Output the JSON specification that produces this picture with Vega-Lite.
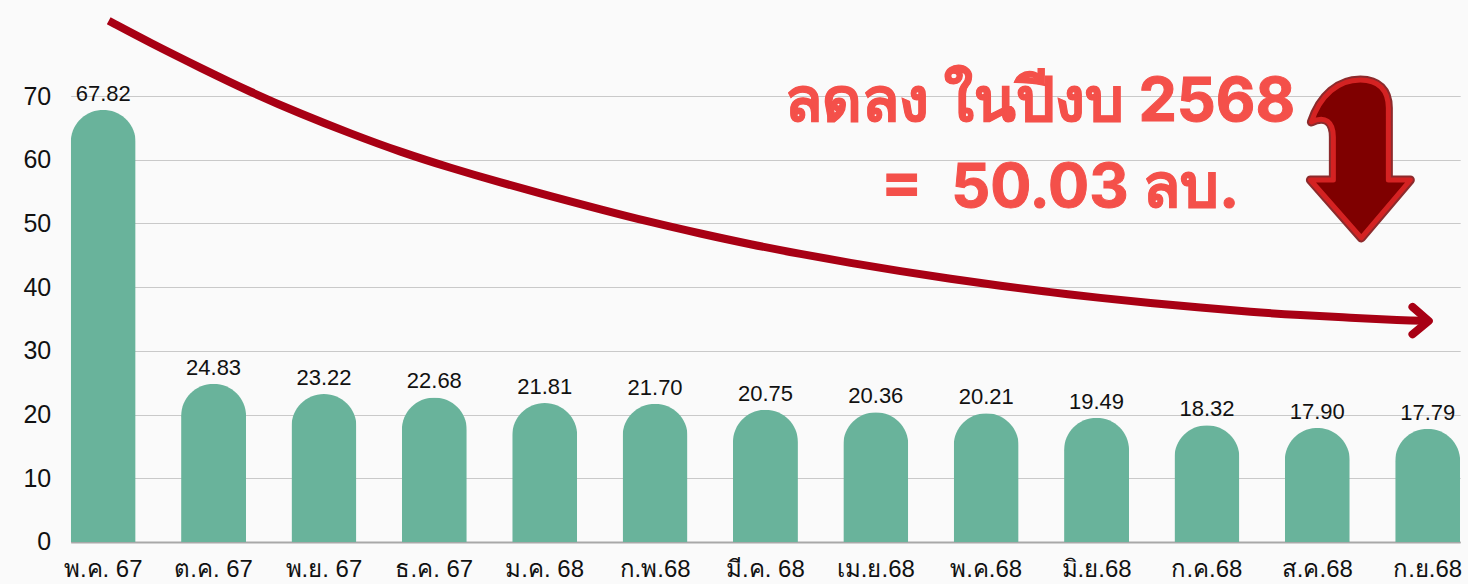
{
"$schema":"https://vega.github.io/schema/vega-lite/v6.json",
"width":1389.5,"height":446,
"autosize":{"type":"none"},
"padding":{"left":70.7,"top":96,"right":8,"bottom":42},
"background":"#FAFAFA",
"config":{"view":{"stroke":null},"font":"Liberation Sans"},
"datasets":{
"bars":[
{"m":"พ.ค. 67","v":67.82},{"m":"ต.ค. 67","v":24.83},{"m":"พ.ย. 67","v":23.22},{"m":"ธ.ค. 67","v":22.68},{"m":"ม.ค. 68","v":21.81},{"m":"ก.พ.68","v":21.70},{"m":"มี.ค. 68","v":20.75},{"m":"เม.ย.68","v":20.36},{"m":"พ.ค.68","v":20.21},{"m":"มิ.ย.68","v":19.49},{"m":"ก.ค.68","v":18.32},{"m":"ส.ค.68","v":17.90},{"m":"ก.ย.68","v":17.79}],
"curve":[
{"p":0.05,"y":81.8},{"p":0.43,"y":78.3},{"p":0.883,"y":74.4},{"p":1.336,"y":70.6},{"p":1.789,"y":67.2},{"p":2.242,"y":64.1},{"p":2.695,"y":61.2},{"p":3.148,"y":58.7},{"p":3.601,"y":56.4},{"p":4.053,"y":54.3},{"p":4.506,"y":52.2},{"p":4.959,"y":50.2},{"p":5.412,"y":48.4},{"p":5.865,"y":46.7},{"p":6.318,"y":45.2},{"p":6.771,"y":43.8},{"p":7.224,"y":42.5},{"p":7.677,"y":41.3},{"p":8.13,"y":40.2},{"p":8.582,"y":39.2},{"p":9.035,"y":38.3},{"p":9.488,"y":37.5},{"p":9.941,"y":36.8},{"p":10.394,"y":36.1},{"p":10.847,"y":35.6},{"p":11.3,"y":35.2},{"p":11.753,"y":34.8},{"p":12.01,"y":34.7}],
"head":[{"o":1,"p":11.862,"y":36.9},{"o":2,"p":12.01,"y":34.7},{"o":3,"p":11.862,"y":32.6}],
"notes":[{"p":8.49,"y":68.9,"t":"ลดลง ในปีงบ 2568"},{"p":8.67,"y":55.4,"t":"=\u00a0\u00a050.03 ลบ."}],
"down":[{"p":11.39,"y":59.96}]
},
"layer":[
{"layer":[
{"data":{"name":"bars"},
"mark":{"type":"bar","color":"#69B39B","width":65,"cornerRadiusTopLeft":32.5,"cornerRadiusTopRight":32.5},
"encoding":{
"x":{"field":"m","type":"nominal","sort":null,"title":null,"scale":{"paddingInner":0.411,"paddingOuter":0},
"axis":{"labelAngle":0,"labelFontSize":24,"labelColor":"#111111","labelPadding":16,"ticks":false,"domainColor":"#A8A8A8","domainWidth":2,"labelOverlap":false,"labelBound":false,"labelFlush":false}},
"y":{"field":"v","type":"quantitative","title":null,"scale":{"domain":[0,70],"nice":false},
"axis":{"values":[0,10,20,30,40,50,60,70],"labelFontSize":25,"labelColor":"#111111","labelPadding":20,"ticks":false,"domain":false,"grid":true,"gridColor":"#C9C9C9","gridWidth":1}}}},
{"data":{"name":"bars"},
"mark":{"type":"text","fontSize":22,"color":"#111111","baseline":"bottom","dy":-4},
"encoding":{"x":{"field":"m","type":"nominal","sort":null},"y":{"field":"v","type":"quantitative"},"text":{"field":"v","type":"quantitative","format":".2f"}}}
]},
{"layer":[
{"data":{"name":"curve"},
"mark":{"type":"line","color":"#A80014","strokeWidth":8,"interpolate":"basis","clip":false},
"encoding":{"x":{"field":"p","type":"quantitative","axis":null,"scale":{"domain":[-0.2944,12.2944],"nice":false,"zero":false}},"y":{"field":"y","type":"quantitative"}}},
{"data":{"name":"head"},
"mark":{"type":"line","color":"#A80014","strokeWidth":8,"strokeCap":"round","strokeJoin":"round"},
"encoding":{"x":{"field":"p","type":"quantitative"},"y":{"field":"y","type":"quantitative"},"order":{"field":"o","type":"quantitative"}}},
{"data":{"name":"notes"},
"mark":{"type":"text","fontSize":61,"font":"Inter","fontWeight":"bold","color":"#F4504A","stroke":"#F4504A","strokeWidth":1,"align":"center","baseline":"middle"},
"encoding":{"x":{"field":"p","type":"quantitative"},"y":{"field":"y","type":"quantitative"},"text":{"field":"t"}}},
{"data":{"name":"down"},
"mark":{"type":"point","filled":true,"size":12100,"opacity":1,"fill":"#7F0000","stroke":"#8C2A2C","strokeWidth":9,"strokeJoin":"round","shape":"M -0.891 -0.691 C -0.727 -1.182 -0.4 -1.455 0 -1.455 C 0.327 -1.455 0.509 -1.273 0.509 -0.945 L 0.509 0.364 L 0.909 0.364 L 0.018 1.418 L -0.909 0.364 L -0.491 0.364 L -0.491 -0.418 C -0.491 -0.691 -0.636 -0.818 -0.891 -0.691 Z"},
"encoding":{"x":{"field":"p","type":"quantitative"},"y":{"field":"y","type":"quantitative"}}},
{"data":{"name":"down"},
"mark":{"type":"point","filled":true,"size":12100,"opacity":1,"fill":"#7F0000","stroke":"#D42222","strokeWidth":5,"strokeJoin":"round","shape":"M -0.891 -0.691 C -0.727 -1.182 -0.4 -1.455 0 -1.455 C 0.327 -1.455 0.509 -1.273 0.509 -0.945 L 0.509 0.364 L 0.909 0.364 L 0.018 1.418 L -0.909 0.364 L -0.491 0.364 L -0.491 -0.418 C -0.491 -0.691 -0.636 -0.818 -0.891 -0.691 Z"},
"encoding":{"x":{"field":"p","type":"quantitative"},"y":{"field":"y","type":"quantitative"}}}
]}
],
"resolve":{"scale":{"x":"independent"}}
}
